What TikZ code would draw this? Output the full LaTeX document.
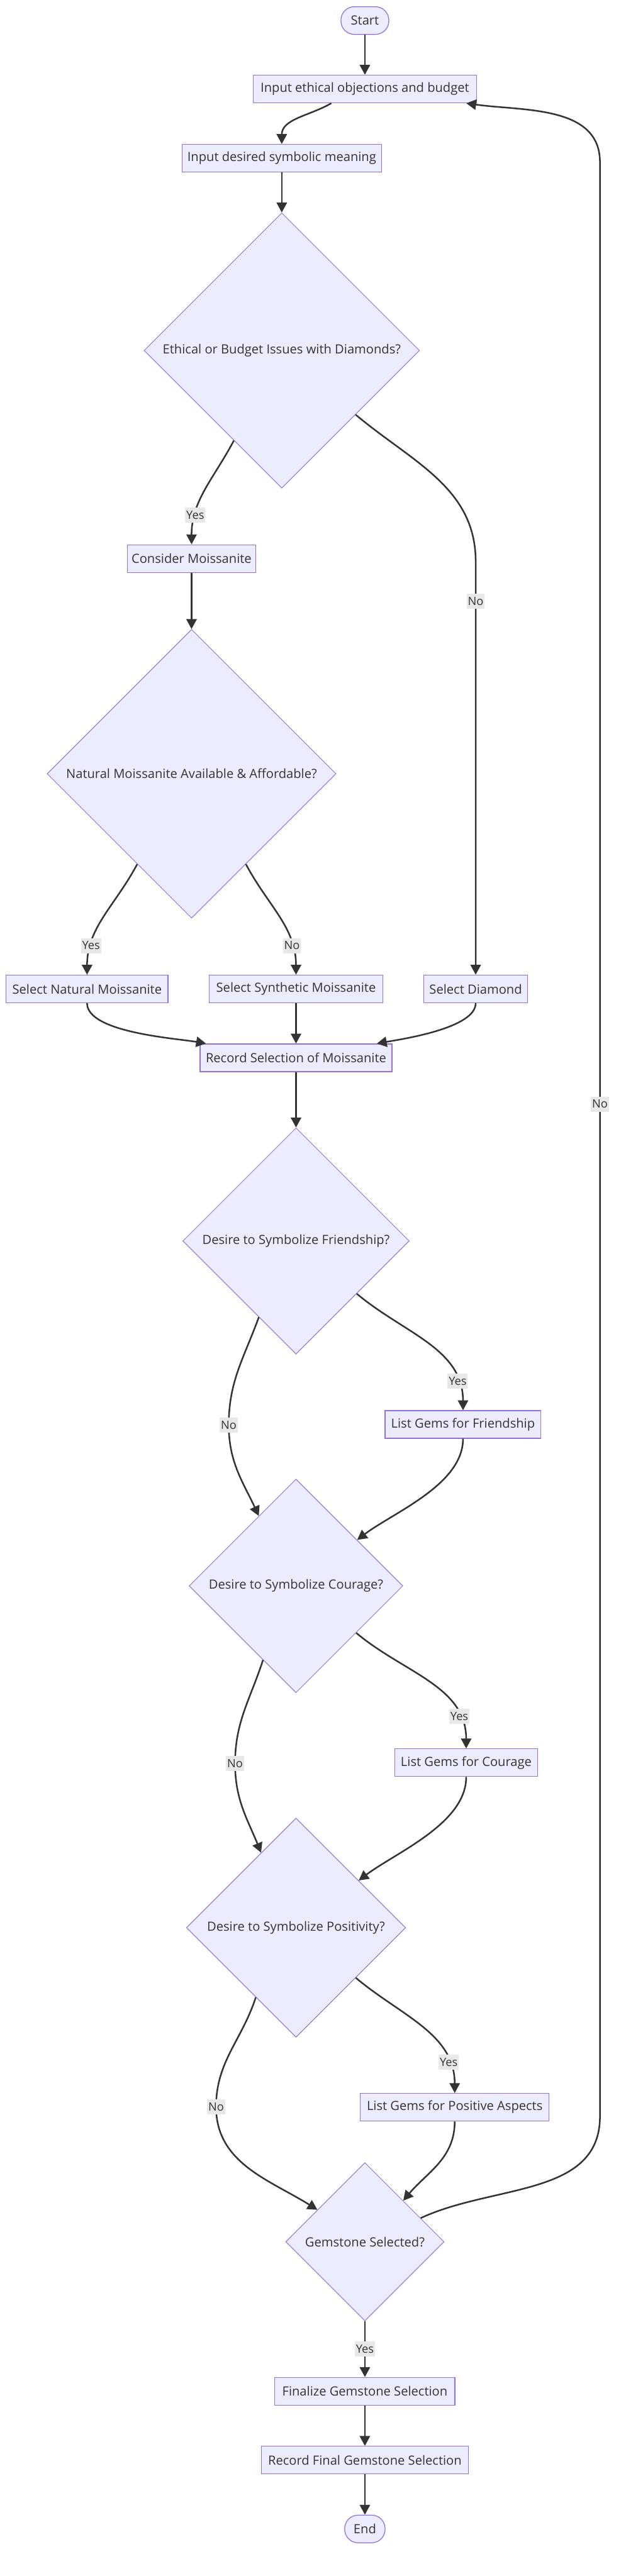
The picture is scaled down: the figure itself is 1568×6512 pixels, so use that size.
\documentclass[tikz,border=0pt]{standalone}
\usepackage{fontspec}
\setmainfont{Open Sans}
\usetikzlibrary{arrows.meta,shapes.geometric}
\definecolor{nodefill}{HTML}{ECECFF}
\definecolor{nodeline}{HTML}{9370DB}
\definecolor{ink}{HTML}{333333}
\definecolor{lblfill}{HTML}{E8E8E8}

\begin{document}
\begin{tikzpicture}[>={Triangle[length=12.5pt,width=13pt]},x=0.5pt,y=0.5pt]
	\tikzset{proc/.style = {rectangle,draw=nodeline,fill=nodefill,line width=1pt,text=ink,inner sep=0pt,minimum height=35pt,font=\fontsize{16}{19}\selectfont}}
	\tikzset{term/.style = {proc,rounded corners=17pt}}
	\tikzset{decide/.style = {proc,diamond,aspect=1,line width=0.8pt}}
	\tikzset{lbl/.style = {fill=lblfill,text=ink,inner sep=1.5pt,minimum height=19pt,font=\fontsize{14.5}{17}\selectfont}}
	\tikzset{flow/.style = {->,draw=ink,line width=2pt}}
	\useasboundingbox (0,0) rectangle (1568,-6512);
	% vertices
	\node[term,minimum width=60.5pt] (start) at (922,-52) {Start};
	\node[proc,minimum width=282.5pt] (inEth) at (922,-225) {Input ethical objections and budget};
	\node[proc,minimum width=252pt] (inSym) at (712,-400) {Input desired symbolic meaning};
	\node[decide,minimum width=348pt,minimum height=348pt] (dEth) at (712,-886) {Ethical or Budget Issues with Diamonds?};
	\node[proc,minimum width=162.5pt] (consider) at (484,-1412) {Consider Moissanite};
	\node[decide,minimum width=365pt,minimum height=365pt] (dNat) at (484,-1956) {Natural Moissanite Available \& Affordable?};
	\node[proc,minimum width=204.5pt] (selNat) at (220,-2500) {Select Natural Moissanite};
	\node[proc,minimum width=219pt] (selSyn) at (748,-2500) {Select Synthetic Moissanite};
	\node[proc,minimum width=131.5pt] (selDia) at (1202,-2500) {Select Diamond};
	\node[proc,minimum width=242.5pt] (recMoi) at (748,-2674) {Record Selection of Moissanite};
	\node[decide,minimum width=286pt,minimum height=286pt] (dFri) at (748,-3137) {Desire to Symbolize Friendship?};
	\node[proc,minimum width=197pt] (gemFri) at (1170,-3601) {List Gems for Friendship};
	\node[decide,minimum width=270pt,minimum height=270pt] (dCou) at (748,-4009) {Desire to Symbolize Courage?};
	\node[proc,minimum width=180.5pt] (gemCou) at (1178,-4456) {List Gems for Courage};
	\node[decide,minimum width=277pt,minimum height=277pt] (dPos) at (748,-4873) {Desire to Symbolize Positivity?};
	\node[proc,minimum width=238.5pt] (gemPos) at (1149,-5327) {List Gems for Positive Aspects};
	\node[decide,minimum width=200pt,minimum height=200pt] (dSel) at (922,-5667) {Gemstone Selected?};
	\node[proc,minimum width=227.5pt] (fin) at (922,-6045) {Finalize Gemstone Selection};
	\node[proc,minimum width=262pt] (recFin) at (922,-6219) {Record Final Gemstone Selection};
	\node[term,minimum width=51pt] (stop) at (922,-6393) {End};
	% bend points
	\coordinate (diaBend) at (1202,-1420);
	\coordinate (noFri) at (578,-3602);
	\coordinate (noCou) at (594,-4458);
	\coordinate (noPos) at (546,-5326);
	\coordinate (loopLow) at (1516,-5350);
	\coordinate (loopHigh) at (1516,-410);
	%edges
	\path (start) edge[flow] (inEth);
	\path (inEth.-157) edge[flow,out=-150,in=90] (inSym);
	\path (inSym) edge[flow] (dEth);
	\path (dEth.-118) edge[flow,out=-118,in=90] node[lbl,pos=0.75] {Yes} (consider);
	\draw[flow] (dEth.-41) to[out=-40,in=90] (diaBend) -- node[lbl,pos=0.096] {No} (selDia);
	\path (consider) edge[flow] (dNat);
	\path (dNat.-121) edge[flow,out=-118,in=90] node[lbl,pos=0.77] {Yes} (selNat);
	\path (dNat.-59) edge[flow,out=-62,in=90] node[lbl,pos=0.77] {No} (selSyn);
	\path (selNat) edge[flow,out=-90,in=170,looseness=0.6] (recMoi.171);
	\path (selSyn) edge[flow] (recMoi);
	\path (selDia) edge[flow,out=-90,in=10,looseness=0.6] (recMoi.10);
	\path (recMoi) edge[flow] (dFri);
	\path (dFri.-41) edge[flow,out=-40,in=90] node[lbl,pos=0.82] {Yes} (gemFri);
	\draw[flow] (dFri.-116) to[out=-110,in=90] node[lbl,at end] {No} (noFri) to[out=-90,in=115] (dCou.118);
	\path (gemFri) edge[flow,out=-90,in=37,looseness=0.8] (dCou.37);
	\path (dCou.-38) edge[flow,out=-40,in=90] node[lbl,pos=0.8] {Yes} (gemCou);
	\draw[flow] (dCou.-114) to[out=-108,in=90] node[lbl,at end] {No} (noCou) to[out=-90,in=112] (dPos.115);
	\path (gemCou) edge[flow,out=-90,in=37,looseness=0.8] (dPos.37);
	\path (dPos.-40) edge[flow,out=-40,in=90] node[lbl,pos=0.8] {Yes} (gemPos);
	\draw[flow] (dPos.-120) to[out=-108,in=90] node[lbl,at end] {No} (noPos) to[out=-90,in=148] (dSel.146);
	\path (gemPos) edge[flow,out=-90,in=50] (dSel.47);
	\draw[flow] (dSel.23) to[out=25,in=-90] (loopLow) -- node[lbl,pos=0.518] {No} (loopHigh) to[out=90,in=-8] (inEth.-8);
	\path (dSel) edge[flow] node[lbl] {Yes} (fin);
	\path (fin) edge[flow] (recFin);
	\path (recFin) edge[flow] (stop);

	\end{tikzpicture}
\end{document}
